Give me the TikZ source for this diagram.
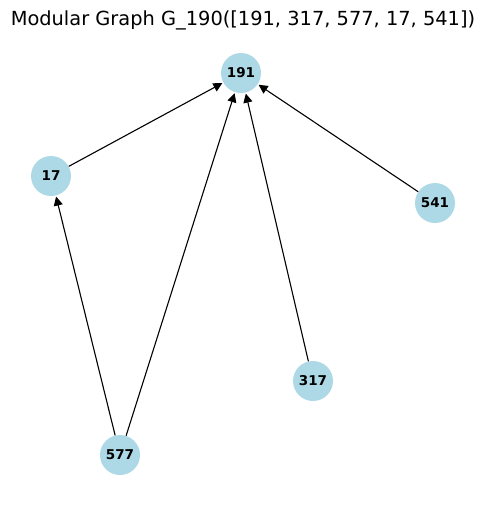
\documentclass[tikz,border=0pt]{standalone}
\usepackage{fontspec}
\setmainfont{DejaVu Sans}
\usetikzlibrary{arrows.meta}
\begin{document}
\begin{tikzpicture}[x=1pt,y=-1pt,
  gnode/.style={circle,fill=lightblue,minimum size=40pt,inner sep=0pt,font=\fontsize{13.5}{15}\selectfont\bfseries},
  garrow/.style={-{Triangle[length=9pt,width=9pt]},line width=1.1pt,shorten >=1pt}]
\definecolor{lightblue}{HTML}{ADD8E6}
\useasboundingbox (0,0) rectangle (486,505);
\node[font=\fontsize{19.4}{22}\selectfont] (title) at (243,20) {Modular Graph G\_190([191, 317, 577, 17, 541])};
\node[gnode] (n191) at (241,73) {191};
\node[gnode] (n17) at (51,176) {17};
\node[gnode] (n541) at (435,203) {541};
\node[gnode] (n317) at (313,381) {317};
\node[gnode] (n577) at (120,455) {577};
\draw[garrow] (n17) -- (n191);
\draw[garrow] (n577) -- (n191);
\draw[garrow] (n317) -- (n191);
\draw[garrow] (n541) -- (n191);
\draw[garrow] (n577) -- (n17);
\end{tikzpicture}
\end{document}
